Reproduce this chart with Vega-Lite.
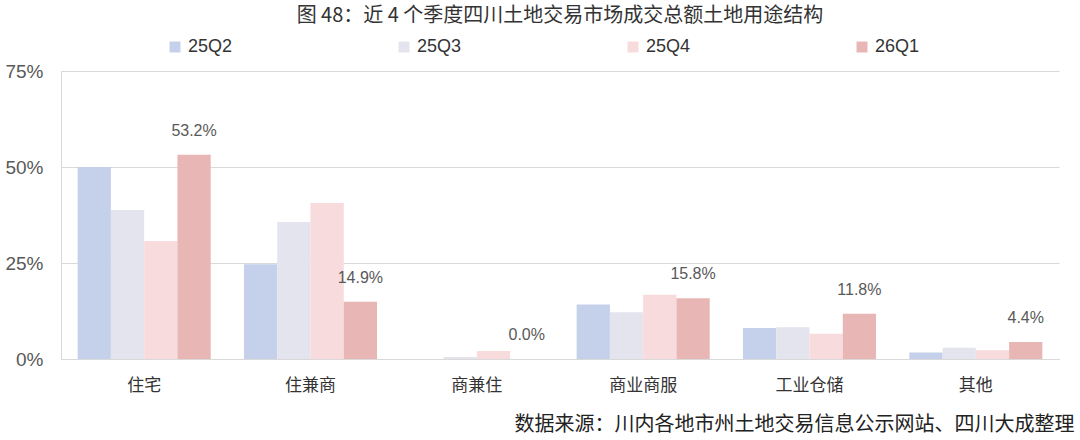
{
  "$schema": "https://vega.github.io/schema/vega-lite/v6.json",
  "width": 998,
  "height": 288,
  "padding": {"left": 4, "top": 6, "right": 20, "bottom": 2},
  "background": "white",
  "config": {
    "font": "Liberation Sans, Noto Sans CJK SC",
    "view": {"stroke": null}
  },
  "title": {
    "text": "图 48：近 4 个季度四川土地交易市场成交总额土地用途结构",
    "fontSize": 20,
    "fontWeight": "normal",
    "color": "#333333",
    "font": "Noto Sans CJK SC",
    "anchor": "middle",
    "offset": 12
  },
  "data": {
    "values": [
      {"cat": "住宅", "q": "25Q2", "v": 0.500},
      {"cat": "住宅", "q": "25Q3", "v": 0.388},
      {"cat": "住宅", "q": "25Q4", "v": 0.307},
      {"cat": "住宅", "q": "26Q1", "v": 0.532},
      {"cat": "住兼商", "q": "25Q2", "v": 0.247},
      {"cat": "住兼商", "q": "25Q3", "v": 0.357},
      {"cat": "住兼商", "q": "25Q4", "v": 0.406},
      {"cat": "住兼商", "q": "26Q1", "v": 0.149},
      {"cat": "商兼住", "q": "25Q2", "v": 0.0},
      {"cat": "商兼住", "q": "25Q3", "v": 0.005},
      {"cat": "商兼住", "q": "25Q4", "v": 0.021},
      {"cat": "商兼住", "q": "26Q1", "v": 0.0},
      {"cat": "商业商服", "q": "25Q2", "v": 0.142},
      {"cat": "商业商服", "q": "25Q3", "v": 0.122},
      {"cat": "商业商服", "q": "25Q4", "v": 0.167},
      {"cat": "商业商服", "q": "26Q1", "v": 0.158},
      {"cat": "工业仓储", "q": "25Q2", "v": 0.081},
      {"cat": "工业仓储", "q": "25Q3", "v": 0.083},
      {"cat": "工业仓储", "q": "25Q4", "v": 0.066},
      {"cat": "工业仓储", "q": "26Q1", "v": 0.118},
      {"cat": "其他", "q": "25Q2", "v": 0.017},
      {"cat": "其他", "q": "25Q3", "v": 0.029},
      {"cat": "其他", "q": "25Q4", "v": 0.023},
      {"cat": "其他", "q": "26Q1", "v": 0.044}
    ]
  },
  "encoding": {
    "x": {
      "field": "cat",
      "type": "nominal",
      "sort": null,
      "scale": {"paddingInner": 0.2, "paddingOuter": 0.1},
      "axis": {
        "title": "数据来源：川内各地市州土地交易信息公示网站、四川大成整理",
        "titleFont": "Noto Sans CJK SC",
        "titleFontSize": 20,
        "titleFontWeight": "normal",
        "titleColor": "#222222",
        "titleAnchor": "end",
        "titleAlign": "right",
        "titleX": 1013,
        "titlePadding": 21,
        "labelAngle": 0,
        "labelFont": "Noto Sans CJK SC",
        "labelFontSize": 17,
        "labelColor": "#333333",
        "labelPadding": 18,
        "ticks": false,
        "domainColor": "#d9d9d9",
        "grid": false
      }
    },
    "y": {
      "field": "v",
      "type": "quantitative",
      "scale": {"domain": [0, 0.75]},
      "axis": {
        "title": null,
        "values": [0, 0.25, 0.5, 0.75],
        "format": ".0%",
        "labelFontSize": 19,
        "labelColor": "#595959",
        "labelPadding": 18,
        "ticks": false,
        "domain": true,
        "domainColor": "#d9d9d9",
        "gridColor": "#d9d9d9"
      }
    },
    "xOffset": {"field": "q", "type": "nominal", "scale": {"paddingInner": 0, "paddingOuter": 0}}
  },
  "layer": [
    {
      "mark": {"type": "bar"},
      "encoding": {
        "color": {
          "field": "q",
          "type": "nominal",
          "scale": {
            "domain": ["25Q2", "25Q3", "25Q4", "26Q1"],
            "range": ["#c5d0ea", "#e3e4ee", "#f8dbdc", "#e8b6b5"]
          },
          "legend": {
            "title": null,
            "orient": "none",
            "legendX": 105,
            "legendY": -33,
            "direction": "horizontal",
            "symbolType": "square",
            "symbolSize": 120,
            "symbolStrokeWidth": 0,
            "labelFontSize": 18,
            "labelColor": "#333333",
            "columnPadding": 162
          }
        }
      }
    },
    {
      "transform": [{"filter": "datum.q === '26Q1'"}],
      "mark": {"type": "text", "dy": -24, "fontSize": 16, "color": "#595959"},
      "encoding": {
        "text": {"field": "v", "type": "quantitative", "format": ".1%"}
      }
    }
  ]
}
